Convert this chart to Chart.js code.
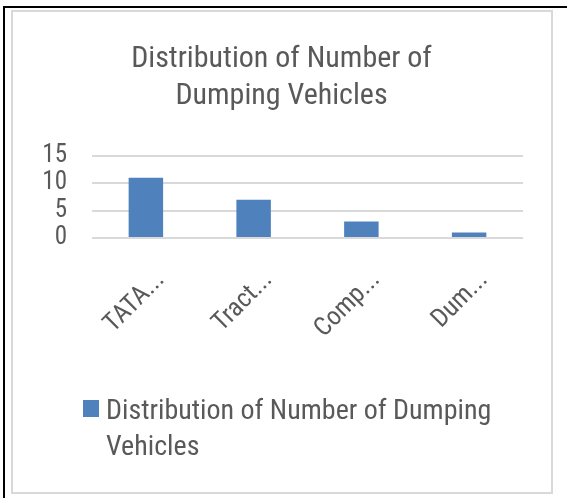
<!DOCTYPE html>
<html>
<head>
<meta charset="utf-8">
<script src="https://cdn.jsdelivr.net/npm/chart.js@4.4.1/dist/chart.umd.min.js"></script>
<style>
  body { margin: 0; background: #fff; }
  #frame {
    position: absolute; left: 3px; top: 6px; width: 600px; height: 600px;
    border-left: 2px solid #000; border-top: 2px solid #000;
  }
  #box {
    position: absolute; left: 11px; top: 10px; width: 538px; height: 480px;
    border: 2px solid #d9d9d9; background: #fff;
  }
  #myChart { display: block; }
</style>
</head>
<body>
<div id="frame"></div>
<div id="box"><canvas id="myChart" width="538" height="480"></canvas></div>
<script>
const categories = ["TATA...", "Tract...", "Comp...", "Dum..."];
const vehicles = [11, 7, 3, 1];
const yTicks = [0, 5, 10, 15];
const seriesName = "Distribution of Number of Dumping Vehicles";
const titleLines = ["Distribution of Number of", "Dumping Vehicles"];
const legendLines = ["Distribution of Number of Dumping", "Vehicles"];

const FONT = "'Roboto Condensed', 'Open Sans Condensed', 'Liberation Sans Narrow', sans-serif";
const gray = "#595959";
const blue = "#4f81bd";

// legend drawn by hand so it can wrap like the original
const wrapLegend = {
  id: "wrapLegend",
  afterDraw(chart) {
    const ctx = chart.ctx;
    const area = chart.chartArea;
    const x = area.left - 9;
    const y = area.bottom + 162;
    ctx.save();
    ctx.fillStyle = blue;
    ctx.fillRect(x, y, 16, 17);
    ctx.fillStyle = gray;
    ctx.font = "28px " + FONT;
    ctx.textBaseline = "alphabetic";
    legendLines.forEach((line, i) => {
      ctx.fillText(line, x + 23, y + 19 + i * 36);
    });
    ctx.restore();
  }
};

const ctx = document.getElementById("myChart");

const myChart = new Chart(ctx, {
  type: "bar",
  data: {
    labels: categories,
    datasets: [
      {
        label: seriesName,
        data: vehicles,
        backgroundColor: blue,
        borderWidth: 0,
        barPercentage: 0.32,
        categoryPercentage: 1,
      },
    ],
  },
  options: {
    responsive: false,
    animation: false,
    layout: { padding: { left: 27, right: 28, top: 0, bottom: 140 } },
    plugins: {
      legend: { display: false },
      tooltip: { enabled: false },
      title: {
        display: true,
        text: titleLines,
        color: gray,
        font: { family: FONT, size: 30, weight: "normal", lineHeight: 1.23 },
        padding: { top: 29, bottom: 41 },
      },
    },
    scales: {
      x: {
        grid: { display: false },
        border: { display: false },
        ticks: {
          color: gray,
          font: { family: FONT, size: 26 },
          minRotation: 45,
          maxRotation: 45,
          autoSkip: false,
          labelOffset: 15,
          padding: 19,
        },
        afterFit: (scale) => { scale.height = 114; },
      },
      y: {
        min: 0,
        max: 15,
        afterBuildTicks: (scale) => {
          scale.ticks = yTicks.map((v) => ({ value: v }));
        },
        grid: { color: "#d9d9d9", lineWidth: 2, drawTicks: false },
        border: { display: false },
        ticks: {
          color: gray,
          font: { family: FONT, size: 25 },
          padding: 25,
          autoSkip: false,
        },
        afterFit: (scale) => { scale.width = 52; },
      },
    },
  },
  plugins: [wrapLegend],
});
</script>
</body>
</html>
